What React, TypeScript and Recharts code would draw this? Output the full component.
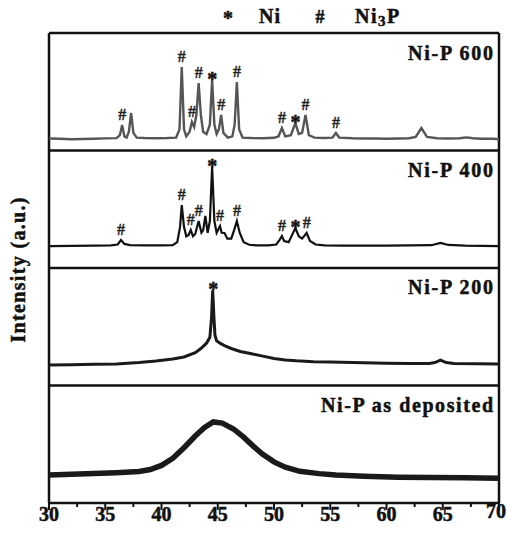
import React from 'react';
import { ComposedChart, Line, XAxis, YAxis, ReferenceLine, Scatter } from 'recharts';

// ---- Data (2θ in degrees, intensity in % of one panel height) ----
const twoTheta600 = [30, 31, 32, 33, 34, 35, 36.0, 36.3, 36.5, 36.7, 36.9, 37.1, 37.3, 37.5, 37.8, 38.5, 39.5, 40.5, 41.3, 41.6, 41.8, 42.0, 42.2, 42.5, 42.7, 42.9, 43.1, 43.3, 43.5, 43.7, 44.0, 44.3, 44.5, 44.7, 44.9, 45.1, 45.3, 45.5, 45.9, 46.3, 46.5, 46.7, 46.9, 47.2, 48, 49, 50.0, 50.4, 50.7, 51.0, 51.5, 51.9, 52.2, 52.5, 52.8, 53.1, 53.6, 54.5, 55.2, 55.5, 55.8, 57, 58, 59, 60, 61, 62, 62.6, 63.1, 63.6, 64.5, 65.5, 66.5, 67.1, 67.7, 68.5, 69.5, 70];
const intensity600 = [10.2, 10.0, 9.6, 9.8, 10.0, 10.3, 10.5, 13, 21.7, 12, 11, 16, 31.9, 15, 11, 10.6, 10.4, 10.6, 11, 18, 71, 18, 12, 16, 24.3, 20, 30, 57.4, 30, 16, 14, 22, 60, 22, 14, 18, 30.2, 15, 11, 12, 22, 58.3, 18, 11, 10.6, 10.4, 10.8, 12, 19.1, 12, 13, 23.4, 14, 15, 30.2, 13, 11, 10.6, 11, 14.9, 11, 10.4, 10.2, 10.2, 10.0, 10.2, 10.4, 11.5, 19.1, 11.5, 10.4, 10.2, 10.4, 11.2, 10.4, 10.0, 10.0, 9.6];

const twoTheta400 = [30, 32, 34, 35.5, 36.1, 36.4, 36.7, 37.2, 38.5, 40, 41.0, 41.4, 41.65, 41.8, 42.0, 42.2, 42.4, 42.6, 42.8, 43.0, 43.3, 43.55, 43.7, 43.9, 44.1, 44.3, 44.5, 44.7, 44.9, 45.2, 45.35, 45.6, 45.85, 46.2, 46.45, 46.7, 46.95, 47.3, 47.8, 48.5, 49.5, 50.2, 50.5, 50.7, 50.9, 51.3, 51.6, 51.9, 52.2, 52.5, 52.9, 53.2, 53.7, 54.5, 56, 58, 60, 62, 64, 64.8, 65.5, 67, 68.5, 70];
const intensity400 = [18.7, 18.9, 19.0, 19.2, 20, 23.8, 20.5, 19.5, 19.2, 19.2, 19.5, 22, 35, 53.6, 35, 27, 28, 32.3, 27, 29, 40, 30, 32, 44.3, 30, 40, 86, 40, 30, 35.7, 30, 29.8, 25, 25, 32, 40, 30, 22, 19.8, 19.2, 19.2, 20, 24, 27.2, 23, 22, 28, 34, 27, 25, 29.8, 23, 20, 19.2, 19, 19, 19.1, 19.2, 19.4, 21.3, 19.6, 19.0, 18.8, 18.6];

const twoTheta200 = [30, 32, 34, 36, 38, 39.5, 41, 42, 43, 43.5, 44.0, 44.3, 44.45, 44.55, 44.65, 44.75, 44.9, 45.2, 45.6, 46.2, 47, 48, 49, 50, 51, 52, 53.5, 55, 57, 60, 62, 63.8, 64.3, 64.8, 65.3, 66, 68, 70];
const intensity200 = [17.4, 17.6, 18.0, 18.4, 19.5, 20.8, 22.5, 24.3, 28, 31.5, 36, 41, 58, 81, 60, 43, 38, 36, 34, 31.5, 29, 27, 25, 23, 21.8, 21, 20.3, 20, 19.5, 19, 18.8, 18.8, 19.5, 21.5, 19.5, 18.8, 18.5, 18.3];

const twoThetaAsDep = [30, 32, 34, 36, 38, 39, 40, 41, 42, 43, 43.8, 44.6, 45.4, 46.4, 47.3, 48.2, 49, 50, 51, 52.3, 54, 55.5, 58, 61, 64, 67, 70];
const intensityAsDep = [23.8, 24.5, 25.2, 25.8, 26.8, 28.5, 32, 38, 47, 57, 64, 69, 68, 63, 56, 48, 41.5, 35, 30.5, 27, 25, 23.8, 22.8, 22, 21.8, 21.5, 21];

const xTicks = [30, 32.5, 35, 37.5, 40, 42.5, 45, 47.5, 50, 52.5, 55, 57.5, 60, 62.5, 65, 67.5, 70];
const panelLabels = ['Ni-P as deposited', 'Ni-P 200', 'Ni-P 400', 'Ni-P 600'];

const markers600 = [
  { x: 36.5, s: '#' }, { x: 41.8, s: '#' }, { x: 42.7, s: '#' }, { x: 43.3, s: '#' }, { x: 44.5, s: '*' },
  { x: 45.3, s: '#' }, { x: 46.7, s: '#' }, { x: 50.7, s: '#' }, { x: 51.9, s: '*' }, { x: 52.8, s: '#' }, { x: 55.5, s: '#' },
];
const markers400 = [
  { x: 36.4, s: '#' }, { x: 41.8, s: '#' }, { x: 42.6, s: '#' }, { x: 43.3, s: '#' }, { x: 44.5, s: '*' },
  { x: 45.2, s: '#' }, { x: 46.7, s: '#' }, { x: 50.7, s: '#' }, { x: 51.9, s: '*' }, { x: 52.9, s: '#' },
];
const markers200 = [{ x: 44.6, s: '*' }];

// ---- Build tables ----
const build = (xs: number[], ys: number[], offset: number) =>
  xs.map((x, i) => ({ x, y: offset + ys[i] / 100 }));

const s600 = build(twoTheta600, intensity600, 3);
const s400 = build(twoTheta400, intensity400, 2);
const s200 = build(twoTheta200, intensity200, 1);
const sAsDep = build(twoThetaAsDep, intensityAsDep, 0);

const placeMarkers = (ms: { x: number; s: string }[], series: { x: number; y: number }[]) =>
  ms.map((m) => {
    const near = series.filter((p) => Math.abs(p.x - m.x) <= 0.12);
    const y = Math.max(...near.map((p) => p.y));
    return { x: m.x, y, s: m.s };
  });

const allMarkers = [
  ...placeMarkers(markers600, s600),
  ...placeMarkers(markers400, s400),
  ...placeMarkers(markers200, s200),
];

const SERIF = '"Liberation Serif", "Times New Roman", serif';

const MarkerShape = (props: any) => {
  const { cx, cy, payload } = props;
  if (cx == null || cy == null) return <g />;
  if (payload.s === '*') {
    return (
      <text x={cx} y={cy + 6} textAnchor="middle" fontFamily={SERIF} fontWeight="bold" fontSize={20} fill="#111" stroke="#111" strokeWidth={0.5}>
        *
      </text>
    );
  }
  return (
    <text x={cx} y={cy - 5} textAnchor="middle" fontFamily={SERIF} fontWeight="bold" fontSize={16} fill="#222" stroke="#222" strokeWidth={0.3}>
      #
    </text>
  );
};

const XTick = (props: any) => {
  const { x, y, payload } = props;
  const v = payload.value;
  const major = Math.abs(v / 5 - Math.round(v / 5)) < 1e-6;
  const isLast = v === 70;
  return (
    <g>
      <line x1={x} x2={x} y1={y} y2={y + (major ? 7 : 4)} stroke="#111" strokeWidth={2} />
      {major && (
        <text
          x={isLast ? x + 7 : x}
          y={isLast ? y + 15 : y + 18}
          textAnchor={isLast ? 'end' : 'middle'}
          fontFamily={SERIF}
          fontWeight="bold"
          fontSize={20}
          fill="#111"
          stroke="#111"
          strokeWidth={0.5}
        >
          {v}
        </text>
      )}
    </g>
  );
};

const labelBaselines = [412, 293.5, 176.5, 60];
const labelLengths = [172, 85, 85, 85];

export default function App() {
  return (
    <div style={{ position: 'absolute', left: 0, top: 0, width: 507, height: 533, background: '#fff' }}>
      <ComposedChart width={507} height={533} margin={{ top: 33, right: 8, bottom: 0, left: 49 }}>
        <XAxis
          type="number"
          dataKey="x"
          domain={[30, 70]}
          ticks={xTicks}
          interval={0}
          tick={<XTick />}
          tickLine={false}
          tickSize={0}
          tickMargin={0}
          height={30}
          axisLine={{ stroke: '#111', strokeWidth: 2.5 }}
          allowDataOverflow
        />
        <YAxis type="number" dataKey="y" domain={[0, 4]} hide allowDataOverflow />
        <ReferenceLine x={30} stroke="#111" strokeWidth={2.5} />
        <ReferenceLine x={70} stroke="#111" strokeWidth={2.5} />
        <ReferenceLine y={1} stroke="#111" strokeWidth={2.5} />
        <ReferenceLine y={2} stroke="#111" strokeWidth={2.5} />
        <ReferenceLine y={3} stroke="#111" strokeWidth={2.5} />
        <ReferenceLine y={4} stroke="#111" strokeWidth={2.5} />
        <Line data={sAsDep} dataKey="y" type="linear" stroke="#1a1a1a" strokeWidth={5.5} dot={false} isAnimationActive={false} />
        <Line data={s200} dataKey="y" type="linear" stroke="#1a1a1a" strokeWidth={3} dot={false} isAnimationActive={false} />
        <Line data={s400} dataKey="y" type="linear" stroke="#111" strokeWidth={2.2} dot={false} isAnimationActive={false} />
        <Line data={s600} dataKey="y" type="linear" stroke="#555" strokeWidth={2.4} dot={false} isAnimationActive={false} />
        <Scatter data={allMarkers} dataKey="y" shape={<MarkerShape />} isAnimationActive={false} />
      </ComposedChart>
      <svg width={507} height={533} style={{ position: 'absolute', left: 0, top: 0, pointerEvents: 'none' }}>
        <g fontFamily={SERIF} fontWeight="bold" fill="#111" stroke="#111" strokeWidth={0.5}>
          <text x={228} y={25} fontSize={20} textAnchor="middle">*</text>
          <text x={259} y={23} fontSize={20} letterSpacing={1}>Ni</text>
          <text x={320} y={23} fontSize={18} textAnchor="middle">#</text>
          <text x={355} y={23} fontSize={20} letterSpacing={1.5}>
            Ni<tspan fontSize={15} dy={3}>3</tspan><tspan dy={-3}>P</tspan>
          </text>
          {panelLabels.map((t, i) => (
            <text key={t} x={493} y={labelBaselines[i]} fontSize={20} textAnchor="end" textLength={labelLengths[i]} lengthAdjust="spacing">
              {t}
            </text>
          ))}
          <text x={25} y={270} fontSize={20} textAnchor="middle" transform="rotate(-90 25 270)" textLength={145} lengthAdjust="spacing">
            Intensity (a.u.)
          </text>
        </g>
      </svg>
    </div>
  );
}
